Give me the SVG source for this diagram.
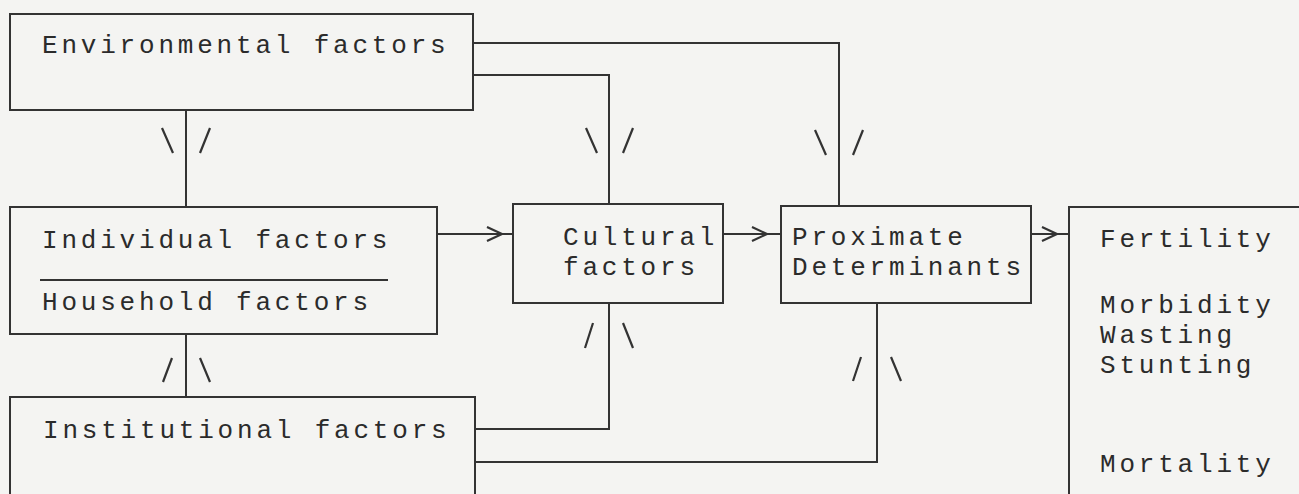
<svg xmlns="http://www.w3.org/2000/svg" width="1299" height="494" viewBox="0 0 1299 494">
  <style>
    .box { fill: none; stroke: #333; stroke-width: 2; }
    .ln { fill: none; stroke: #333; stroke-width: 2; }
    .mk { fill: none; stroke: #333; stroke-width: 2.2; stroke-linecap: butt; }
    .t { font-family: "Liberation Mono", "Courier New", monospace; font-size: 26px; letter-spacing: 3.8px; fill: #2b2b2b; }
  </style>
  <rect x="0" y="0" width="1299" height="494" fill="#f4f4f2"/>

  <g id="connectors">
    <!-- Environmental -> Individual -->
    <path class="ln" d="M186,110 V207"/>
    <path class="mk" d="M162,128 L173,153 M210,128 L200,153"/>
    <!-- Environmental -> Proximate -->
    <path class="ln" d="M473,43 H839 V206"/>
    <path class="mk" d="M815,130 L826,155 M863,130 L853,155"/>
    <!-- Environmental -> Cultural -->
    <path class="ln" d="M473,75 H609 V204"/>
    <path class="mk" d="M586,128 L597,153 M633,128 L623,153"/>
    <!-- Individual -> Cultural -->
    <path class="ln" d="M437,234 H513"/>
    <path class="mk" d="M487,227 L502,234 L487,241"/>
    <!-- Cultural -> Proximate -->
    <path class="ln" d="M723,234 H781"/>
    <path class="mk" d="M752,227 L767,234 L752,241"/>
    <!-- Proximate -> Outcomes -->
    <path class="ln" d="M1031,234 H1069"/>
    <path class="mk" d="M1042,227 L1057,234 L1042,241"/>
    <!-- Institutional -> Individual -->
    <path class="ln" d="M186,334 V397"/>
    <path class="mk" d="M163,382 L172,358 M200,358 L210,382"/>
    <!-- Institutional -> Cultural -->
    <path class="ln" d="M475,429 H609 V303"/>
    <path class="mk" d="M585,348 L593,323 M623,323 L633,348"/>
    <!-- Institutional -> Proximate -->
    <path class="ln" d="M475,462 H877 V303"/>
    <path class="mk" d="M853,381 L861,357 M891,357 L901,381"/>
  </g>

  <g id="environmental">
    <rect class="box" x="10" y="14" width="463" height="96"/>
    <text class="t" x="42" y="53">Environmental factors</text>
  </g>

  <g id="individual-household">
    <rect class="box" x="10" y="207" width="427" height="127"/>
    <text class="t" x="42" y="248">Individual factors</text>
    <path class="ln" d="M40,280 H388"/>
    <text class="t" x="42" y="310">Household factors</text>
  </g>

  <g id="institutional">
    <rect class="box" x="10" y="397" width="465" height="110"/>
    <text class="t" x="43" y="438">Institutional factors</text>
  </g>

  <g id="cultural">
    <rect class="box" x="513" y="204" width="210" height="99"/>
    <text class="t" x="563" y="245">Cultural</text>
    <text class="t" x="563" y="275">factors</text>
  </g>

  <g id="proximate">
    <rect class="box" x="781" y="206" width="250" height="97"/>
    <text class="t" x="792" y="245">Proximate</text>
    <text class="t" x="792" y="275">Determinants</text>
  </g>

  <g id="outcomes">
    <rect class="box" x="1069" y="207" width="260" height="300"/>
    <text class="t" x="1100" y="247">Fertility</text>
    <text class="t" x="1100" y="313">Morbidity</text>
    <text class="t" x="1100" y="343">Wasting</text>
    <text class="t" x="1100" y="373">Stunting</text>
    <text class="t" x="1100" y="472">Mortality</text>
  </g>
</svg>
